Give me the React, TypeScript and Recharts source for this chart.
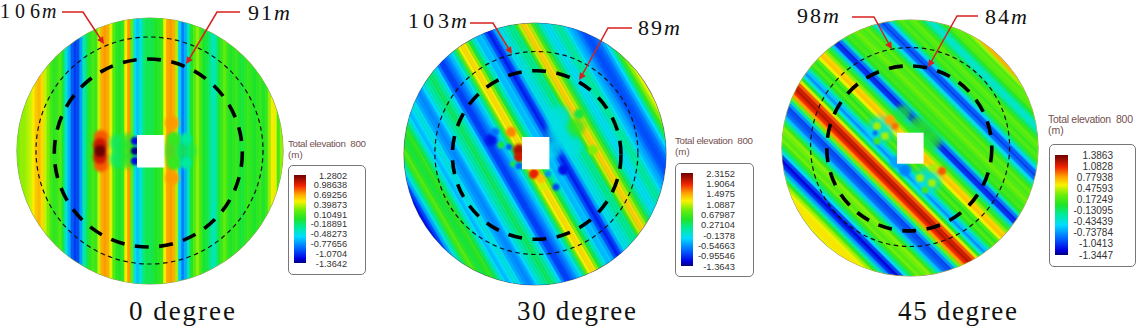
import React from "react";
import { BarChart, Bar, Cell, XAxis, YAxis, ScatterChart, Scatter, ReferenceDot, ReferenceArea } from "recharts";

// elevation (m) sampled every 3px across the wave crests, one list per heading
const stripes0 = [
  0.25, 0.3, 0.3, 0.35, 0.4, 0.5, 0.6, 0.65, 0.55, 0.4, 0.25, 0.1, 0, 0.05, 0.15, -0.1, -0.45, -0.7, -0.95, -1.05,
  -1.0, -0.75, -0.4, -0.15, 0, 0.1, 0.05, 0.4, 0.68, 0.72, 0.68, 0.45, 0.15, 0, -0.05, 0.05, 0.5, 0.72, 0.2, -0.5,
  -0.65, -0.45, -0.25, -0.1, -0.15, -0.1, -0.05, 0, 0.05, 0.5, 0.7, 0.72, 0.68, 0.35, -0.6, -0.85, -0.7, -0.35, -0.05, 0.15,
  0.3, 0.1, -0.05, -0.1, -0.2, -0.4, -0.35, -0.1, 0.05, 0.2, 0.05, -0.05, 0, 0.05, -0.05, -0.1, 0, 0.05, 0, -0.05,
  0, 0.05, -0.05, 0.05, 0.3, 0.5, 0.45, 0.1, 0.3,
];
const stripes30 = [
  -1.1, -0.9, -0.5, -0.1, 0.2, 0.6, 0.75, 0.55, 0.4, 0.5, 0.6, 0.4, 0.1, -0.2, -0.4, -0.25, -0.1, -0.2, -0.45, -0.55,
  -0.6, -0.5, -0.25, -0.05, 0.1, 0.2, 0.35, 0.2, 0.05, -0.25, -0.65, -0.9, -0.9, -0.75, -0.6, -0.4, -0.15, 0.2, 0.75, 1.2,
  1.3, 1.25, 0.9, 0.4, 0.1, -0.15, -0.4, -0.35, -0.5, -0.85, -1.05, -0.9, -0.5, -0.15, -0.15, -0.05, 0.05, 0.2, 0.15, 0.6,
  1.05, 1.35, 1.3, 1.0, 0.65, 0.3, 0.05, -0.15, -0.2, -0.1, 0.05, 0.15, 0.05, -0.2, -0.4, -0.5, -0.65, -0.8, -0.85, -0.8,
  -0.7, -0.5, -0.25, 0.2, 0.6, 0.9, 1.15,
];
const stripes45 = [
  0.55, 0.6, 0.6, 0.55, 0.4, 0.1, -0.3, -0.7, -1.05, -1.2, -1.0, -0.5, -0.15, 0.1, 0.3, 0.2, 0.3, 0.35, 0.1, -0.2,
  -0.6, -0.85, -0.95, -1.0, -0.75, -0.3, 0.3, 0.8, 1.05, 1.2, 1.15, 0.95, 0.5, 0, -0.45, -0.75, -0.6, -0.25, 0.05, 0.2,
  0.05, 0.2, 0.55, 0.7, 0.65, 0.35, 0.1, -0.15, -0.6, -1.05, -1.1, -0.8, -0.3, 0.05, 0.15, 0.1, 0.2, 0.3, 0.2, 0.15,
  0.25, 0.1, -0.15, -0.5, -0.85, -1.0, -0.9, -0.55, -0.15, 0.1, 0.2, 0.1, 0.2, 0.25, 0.1, -0.1, -0.35, -0.4, -0.2, 0.05,
  0.2, 0.25, 0.2, 0.4, 0.75,
];

// scattered-wave patches near the floater: [east, north, elevation, radius]
const patches0 = [
  [-32, 8, -0.2, 9], [-32, -8, -0.2, 9], [-22, 10, 0, 8], [-22, -10, 0, 8], [-22, 0, -0.05, 8],
  [-49, 14, 0.85, 7], [-49, -14, 0.85, 7], [-50, 6, 1.05, 7], [-50, -6, 1.05, 7], [-50, 0, 1.28, 6],
  [24, 0, -0.05, 12], [24, 12, 0.05, 7], [24, -12, 0.05, 7], [36, 0, -0.15, 10], [36, 12, -0.3, 6], [36, -12, -0.3, 6],
  [22, 28, 0.72, 7], [22, -27, 0.72, 7], [-15, 0, -1.34, 4], [-15, 10, -1.2, 4], [-15, -10, -1.2, 4],
];
const patches30 = [
  [24, 20, -0.15, 13], [24, 37, -0.15, 11], [18, 4, -0.2, 9], [38, 7, -0.15, 9], [41, 27, 0.55, 9], [44, 40, 0.4, 5], [58, 4, 0.9, 5],
  [-44, 14, -1.1, 6], [-40, 22, -0.7, 4], [-24, 22, 1.6, 5], [-34, 9, 0.4, 3.5], [-26, 7, -0.8, 3],
  [-16, 4, 2.1, 6], [-16, -3, 2.0, 5], [-22, -10, 0.4, 3], [-16, -12, -0.8, 3.5],
  [-1, -20, 1.9, 5], [6, -25, 1.4, 4.5], [8, -33, 1.1, 4], [21, -33, -0.9, 3.5], [13, -20, -0.6, 3], [28, -16, -1.1, 5],
];
const patches45 = [
  [15, 15, 0.05, 12], [8, 22, 0.05, 10], [22, 8, 0.05, 10], [-7, 35, 0, 8],
  [-30, 18, -0.5, 13], [-33, 22, 0.4, 4], [-25, 12, 0.4, 4], [-33, 7, 0.15, 3.5], [-35, 15, -0.9, 2.5], [-20, 28, 0.8, 5], [-15, 22, 0.9, 3.5],
  [17, -33, -0.5, 13], [10, -30, 0.4, 4], [22, -35, 0.4, 4], [15, -42, 0.15, 3.5], [15, -12, 0.7, 4], [32, -23, 0.95, 4], [23, -20, 0.4, 4],
  [-5, -22, -0.8, 6], [-14, -14, -0.7, 6],
];

const legendTicks0 = [1.2802, 0.98638, 0.69256, 0.39873, 0.10491, -0.18891, -0.48273, -0.77656, -1.0704, -1.3642];
const legendTicks30 = [2.3152, 1.9064, 1.4975, 1.0887, 0.67987, 0.27104, -0.1378, -0.54663, -0.95546, -1.3643];
const legendTicks45 = [1.3863, 1.0828, 0.77938, 0.47593, 0.17249, -0.13095, -0.43439, -0.73784, -1.0413, -1.3447];

const RAMP: [number, number[]][] = [
  [0, [0, 0, 120]], [0.05, [0, 0, 225]], [0.16, [0, 95, 255]], [0.3, [0, 220, 255]], [0.41, [0, 235, 150]],
  [0.5, [30, 228, 40]], [0.6, [105, 238, 10]], [0.7, [248, 242, 0]], [0.78, [255, 165, 0]], [0.88, [240, 35, 0]], [1, [110, 0, 0]],
];

const rampColor = (t: number) => {
  const c = Math.max(0, Math.min(1, t));
  for (let i = 1; i < RAMP.length; i++) {
    if (c <= RAMP[i][0]) {
      const [t0, a] = RAMP[i - 1];
      const [t1, b] = RAMP[i];
      const f = (c - t0) / (t1 - t0);
      return `rgb(${a.map((v, k) => Math.round(v + (b[k] - v) * f)).join(",")})`;
    }
  }
  return "rgb(110,0,0)";
};

const PANELS = [
  {
    id: "p0", caption: "0 degree", stripes: stripes0, patches: patches0, ticks: legendTicks0, angle: 0,
    cx: 150, cy: 150.5, r: 133, square: [-13, 14.5, -16.5, 16], thin: [-0.5, 0.5, 113.5], thick: [-1.7, -2, 94],
    capX: 129, capW: 106,
    box: { x: 288, y: 165, w: 78, h: 110, barX: 5, barW: 12, top: 9, bottom: 11, labelRight: 58, font: 9.2 },
    titleX: 288, titleY: 147, titleW: 78, titleFont: 9.8,
  },
  {
    id: "p30", caption: "30 degree", stripes: stripes30, patches: patches30, ticks: legendTicks30, angle: -30,
    cx: 535.3, cy: 153.8, r: 131, square: [-13, 14.4, -15.2, 17], thin: [1.4, 1, 101.5], thick: [1.7, -1, 84.3],
    capX: 517, capW: 119,
    box: { x: 675, y: 163, w: 79, h: 114, barX: 5, barW: 12, top: 9, bottom: 10, labelRight: 59, font: 9.4 },
    titleX: 675, titleY: 144, titleW: 78, titleFont: 9.8,
  },
  {
    id: "p45", caption: "45 degree", stripes: stripes45, patches: patches45, ticks: legendTicks45, angle: -45,
    cx: 909.7, cy: 148.3, r: 128, square: [-13, 13.6, -15.7, 15.3], thin: [0.1, 1, 99.5], thick: [-0.7, -0.4, 82.5],
    capX: 898, capW: 119,
    box: { x: 1049, y: 144, w: 87, h: 123, barX: 5, barW: 13, top: 10, bottom: 11, labelRight: 63, font: 10 },
    titleX: 1048, titleY: 123, titleW: 85, titleFont: 10.5,
  },
];

const ARROWS = [
  { points: "62,12 83,12 102,41", tip: [104, 44], from: [102, 41] },
  { points: "240,12 217,12 188,61", tip: [186, 64], from: [188, 61] },
  { points: "470,23 493,23 510,51", tip: [512, 54], from: [510, 51] },
  { points: "632,28 608,28 581,77", tip: [579, 80], from: [581, 77] },
  { points: "852,17 874,17 890,46", tip: [892, 49], from: [890, 46] },
  { points: "978,16 957,16 930,64", tip: [928, 67], from: [930, 64] },
];

const DISTANCES = [
  { n: "106", x: 0, y: 18, w: 40, font: 20 },
  { n: "91", x: 248, y: 20, w: 24, font: 22 },
  { n: "103", x: 408, y: 28, w: 41, font: 22 },
  { n: "89", x: 638, y: 35, w: 24, font: 22 },
  { n: "98", x: 797, y: 23, w: 24, font: 22 },
  { n: "84", x: 985, y: 24, w: 24, font: 22 },
];

const Field = ({ p }: { p: (typeof PANELS)[number] }) => {
  const lo = p.ticks[p.ticks.length - 1];
  const hi = p.ticks[0];
  const color = (v: number) => rampColor((v - lo) / (hi - lo));
  const size = p.r * 2;
  const table = p.stripes.map((elevation, i) => ({ i, elevation, span: 1 }));
  const dots = p.patches.map(([x, y, v, z]) => ({ x, y, v, z }));
  return (
    <div style={{ position: "absolute", left: p.cx - p.r, top: p.cy - p.r, width: size, height: size }}>
      <div style={{ position: "absolute", inset: 0, borderRadius: "50%", overflow: "hidden", background: color(p.stripes[0]), boxShadow: "0 0 0 0.6px #8f8f62" }}>
        <div style={{ transform: `rotate(${p.angle}deg)`, filter: "blur(0.7px)" }}>
          <BarChart width={size} height={size} data={table} barCategoryGap={0} margin={{ top: 0, right: 0, bottom: 0, left: 0 }}>
            <XAxis dataKey="i" hide />
            <YAxis hide domain={[0, 1]} />
            <Bar dataKey="span" isAnimationActive={false}>
              {table.map((d) => (
                <Cell key={d.i} fill={color(d.elevation)} stroke={color(d.elevation)} strokeWidth={0.5} />
              ))}
            </Bar>
          </BarChart>
        </div>
      </div>
      <div style={{ position: "absolute", inset: 0 }}>
        <ScatterChart width={size} height={size} margin={{ top: 0, right: 0, bottom: 0, left: 0 }}>
          <XAxis type="number" dataKey="x" hide domain={[-p.r, p.r]} />
          <YAxis type="number" dataKey="y" hide domain={[-p.r, p.r]} />
          <Scatter
            data={dots}
            isAnimationActive={false}
            shape={(s: any) => (
              <circle
                cx={s.cx}
                cy={s.cy}
                r={s.payload.z}
                fill={color(s.payload.v)}
                opacity={s.payload.z > 7 ? 0.75 : 1}
                style={{ filter: `blur(${Math.max(0.8, s.payload.z * 0.25)}px)` }}
              />
            )}
          />
          <ReferenceArea x1={p.square[0]} x2={p.square[1]} y1={p.square[2]} y2={p.square[3]} fill="#fff" fillOpacity={1} stroke="none" zIndex={2000} />
          <ReferenceDot x={p.thin[0]} y={p.thin[1]} r={p.thin[2]} fill="none" stroke="#111" strokeWidth={1.2} strokeDasharray="4.5 3.5" ifOverflow="visible" zIndex={2000} />
          <ReferenceDot x={p.thick[0]} y={p.thick[1]} r={p.thick[2]} fill="none" stroke="#000" strokeWidth={3.6} strokeDasharray="14 10.5" ifOverflow="visible" zIndex={2000} />
        </ScatterChart>
      </div>
    </div>
  );
};

const ColorKey = ({ p }: { p: (typeof PANELS)[number] }) => {
  const b = p.box;
  const lo = p.ticks[p.ticks.length - 1];
  const hi = p.ticks[0];
  const gid = `ramp-${p.id}`;
  return (
    <div style={{ position: "absolute", left: b.x, top: b.y, width: b.w, height: b.h, boxSizing: "border-box", border: "1px solid #777", borderRadius: 5, background: "#fff" }}>
      <ScatterChart width={b.w - 2} height={b.h - 2} margin={{ top: b.top, bottom: b.bottom, left: b.barX, right: 0 }}>
        <defs>
          <linearGradient id={gid} x1="0" y1="1" x2="0" y2="0">
            {RAMP.map(([t], i) => (
              <stop key={i} offset={`${t * 100}%`} stopColor={rampColor(t)} />
            ))}
          </linearGradient>
        </defs>
        <XAxis type="number" dataKey="k" hide domain={[0, 1]} />
        <YAxis
          type="number"
          dataKey="v"
          orientation="right"
          domain={[lo, hi]}
          ticks={p.ticks}
          interval={0}
          width={b.w - 2 - b.barX - b.barW}
          axisLine={false}
          tickLine={false}
          tick={(t: any) => (
            <text x={b.labelRight} y={t.y + 3.5} textAnchor="end" fontSize={b.font} fill="#333" fontFamily="Liberation Sans">
              {String(t.payload.value)}
            </text>
          )}
        />
        <ReferenceArea x1={0} x2={1} y1={lo} y2={hi} fill={`url(#${gid})`} fillOpacity={1} stroke="none" ifOverflow="visible" />
        <Scatter data={p.ticks.map((v) => ({ k: 0, v }))} isAnimationActive={false} shape={() => <g />} />
      </ScatterChart>
    </div>
  );
};

export default function App() {
  return (
    <div style={{ position: "absolute", left: 0, top: 0, width: 1136, height: 327, overflow: "hidden", background: "#fff" }}>
      {PANELS.map((p) => (
        <Field key={p.id} p={p} />
      ))}
      {PANELS.map((p) => (
        <ColorKey key={p.id} p={p} />
      ))}
      <svg width={1136} height={327} style={{ position: "absolute", left: 0, top: 0, pointerEvents: "none" }}>
        {ARROWS.map((a, i) => {
          const [tx, ty] = a.tip;
          const [fx, fy] = a.from;
          const len = Math.hypot(tx - fx, ty - fy);
          const ux = (tx - fx) / len;
          const uy = (ty - fy) / len;
          const head = `${tx},${ty} ${tx - ux * 7 - uy * 3.5},${ty - uy * 7 + ux * 3.5} ${tx - ux * 7 + uy * 3.5},${ty - uy * 7 - ux * 3.5}`;
          return (
            <g key={i}>
              <polyline points={a.points} fill="none" stroke="#d8201c" strokeWidth={1.5} />
              <polygon points={head} fill="#d8201c" />
            </g>
          );
        })}
        {DISTANCES.map((d) => (
          <g key={d.n} fontFamily="Liberation Serif" fontSize={d.font} fill="#111">
            <text x={d.x} y={d.y} textLength={d.w} lengthAdjust="spacing">{d.n}</text>
            <text x={d.x + d.w + 2} y={d.y} fontStyle="italic">m</text>
          </g>
        ))}
        {PANELS.map((p) => (
          <text key={p.id} x={p.capX} y={320} fontFamily="Liberation Serif" fontSize={27} fill="#111" textLength={p.capW} lengthAdjust="spacing">
            {p.caption}
          </text>
        ))}
        {PANELS.map((p) => (
          <g key={p.id} fontFamily="Liberation Sans" fontSize={p.titleFont} fill="#75504f">
            <text x={p.titleX} y={p.titleY} xmlSpace="preserve" textLength={p.titleW} lengthAdjust="spacing">Total elevation  800</text>
            <text x={p.titleX} y={p.titleY + 10.5}>(m)</text>
          </g>
        ))}
      </svg>
    </div>
  );
}
